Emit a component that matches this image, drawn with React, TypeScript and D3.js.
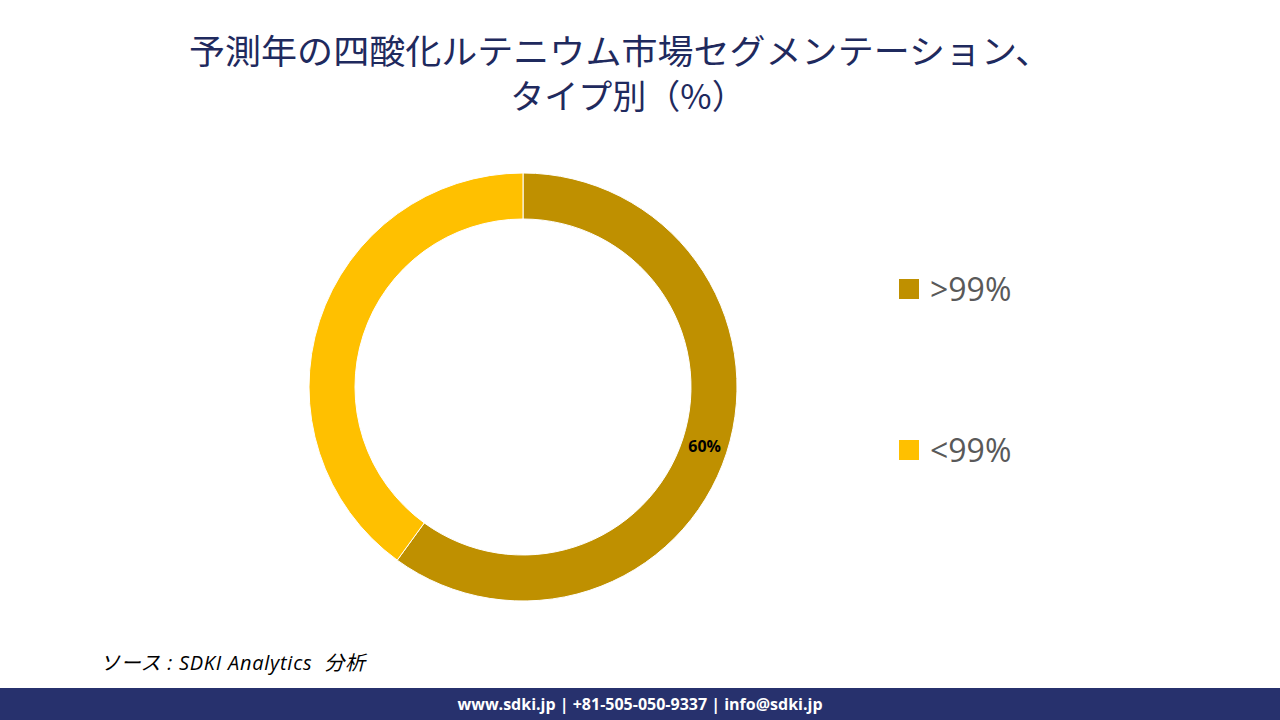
import React from "react";
import * as d3 from "d3";

const titleLines = ["予測年の四酸化ルテニウム市場セグメンテーション、", "タイプ別（%）"];
const categories = [">99%", "<99%"];
const values = [60, 40];
const colors = ["#BF9000", "#FFC000"];
const sourceText = "ソース : SDKI Analytics  分析";
const footerText = "www.sdki.jp | +81-505-050-9337 | info@sdki.jp";

const W = 1280;
const H = 720;
const cx = 523;
const cy = 387;
const outerR = 214;
const innerR = 168;

function App() {
  const pie = d3
    .pie<number>()
    .sort(null)
    .value((d) => d);
  const arcs = pie(values);
  const arc = d3.arc<d3.PieArcDatum<number>>().innerRadius(innerR).outerRadius(outerR);

  const legendY = d3.scalePoint<string>().domain(categories).range([289, 450]);

  return (
    <div style={{ position: "fixed", left: 0, top: 0, width: W, height: H, background: "#fff" }}>
      <svg width={W} height={H} style={{ display: "block" }}>
        <rect width={W} height={H} fill="#fff" />
        {/* title */}
        <g fontFamily="'Noto Sans CJK JP', sans-serif" fill="#1F2A5E" fontSize={34} textAnchor="middle">
          <text x={620} y={64} textLength={862} lengthAdjust="spacingAndGlyphs">{titleLines[0]}</text>
          <text x={628} y={109}>{titleLines[1]}</text>
        </g>

        {/* donut */}
        <g transform={`translate(${cx},${cy})`}>
          {arcs.map((a, i) => (
            <path key={i} d={arc(a) || ""} fill={colors[i]} stroke="#fff" strokeWidth={1} />
          ))}
          {arcs.slice(0, 1).map((a, i) => {
            const [x, y] = arc.centroid(a);
            return (
              <text
                key={i}
                x={x}
                y={y}
                dy="0.35em"
                textAnchor="middle"
                fontFamily="'Open Sans', 'Liberation Sans', sans-serif"
                fontWeight="bold"
                fontSize={16}
                fill="#000"
              >
                {a.data}%
              </text>
            );
          })}
        </g>

        {/* legend */}
        <g fontFamily="'Open Sans', 'Liberation Sans', sans-serif">
          {categories.map((c, i) => (
            <g key={c} transform={`translate(899,${legendY(c)})`}>
              <rect x={0} y={-10} width={20} height={20} fill={colors[i]} />
              <text x={31} y={0} dy="0.36em" fontSize={32} fill="#595959">
                {c}
              </text>
            </g>
          ))}
        </g>

        {/* source */}
        <text
          x={100}
          y={670}
          fontFamily="'Open Sans', 'Noto Sans CJK JP', sans-serif"
          fontStyle="italic"
          fontSize={20}
          fill="#000"
          textLength={265}
          lengthAdjust="spacing"
          style={{ whiteSpace: "pre" }}
        >
          {sourceText}
        </text>

        {/* footer */}
        <rect x={0} y={688} width={W} height={32} fill="#27316D" />
        <text
          x={640}
          y={704}
          dy="0.36em"
          textAnchor="middle"
          fontFamily="'Open Sans', 'Liberation Sans', sans-serif"
          fontWeight="bold"
          fontSize={16}
          fill="#fff"
        >
          {footerText}
        </text>
      </svg>
    </div>
  );
}

export default App;
